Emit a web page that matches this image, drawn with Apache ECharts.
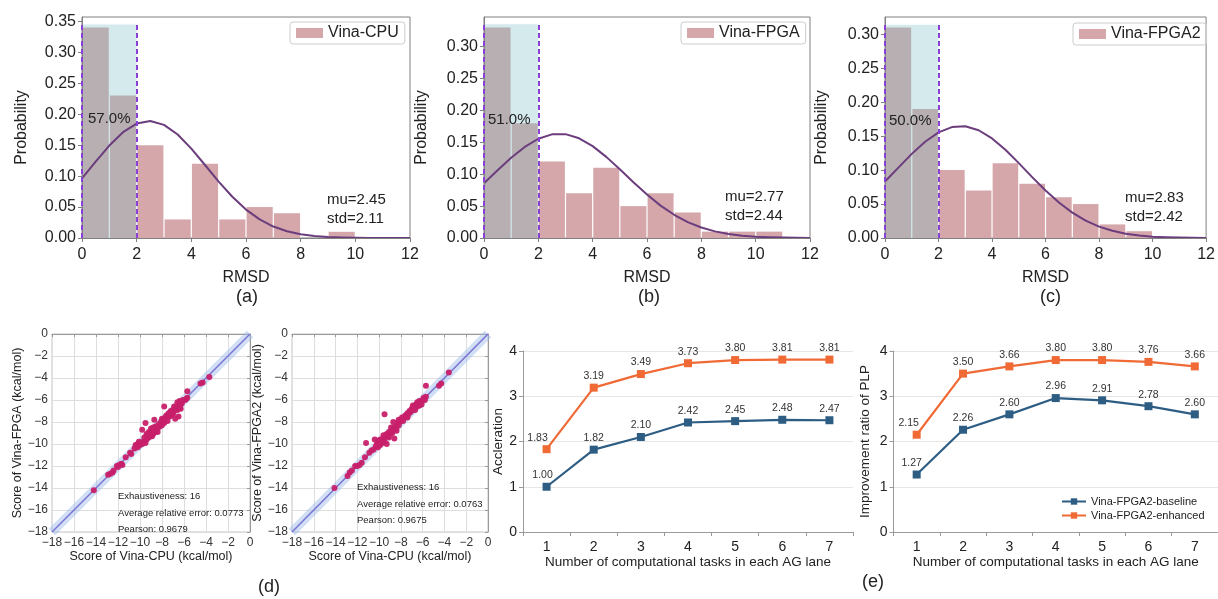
<!DOCTYPE html>
<html><head><meta charset="utf-8">
<script src="https://cdn.jsdelivr.net/npm/echarts@6/dist/echarts.min.js"></script>
<style>html,body{margin:0;padding:0;background:#fff}#c{width:1218px;height:599px}</style>
</head><body><div id="c"></div>
<script>
// ---------------- data ----------------
const binEdges = [0,1,2,3,4,5,6,7,8,9,10,11,12];
const probCPU   = [0.34,0.23,0.15,0.03,0.12,0.03,0.05,0.04,0.00,0.01,0.00,0.00];
const probFPGA  = [0.33,0.18,0.12,0.07,0.11,0.05,0.07,0.04,0.01,0.01,0.01,0.00];
const probFPGA2 = [0.31,0.19,0.10,0.07,0.11,0.08,0.06,0.05,0.02,0.01,0.00,0.00];
const curveX     = [0,0.5,1,1.5,2,2.5,3,3.5,4,4.5,5,5.5,6,6.5,7,7.5,8,8.5,9,9.5,10,10.5,11,11.5,12];
const curveCPU   = [0.0964,0.1234,0.1493,0.1709,0.1848,0.1890,0.1828,0.1671,0.1444,0.1179,0.0911,0.0666,0.0459,0.0300,0.0185,0.0108,0.0060,0.0031,0.0015,0.0007,0.0003,0.0001,0.0000,0.0000,0.0000];
const curveFPGA  = [0.0859,0.1061,0.1257,0.1428,0.1556,0.1625,0.1628,0.1563,0.1440,0.1272,0.1077,0.0874,0.0681,0.0508,0.0364,0.0250,0.0164,0.0104,0.0063,0.0036,0.0020,0.0011,0.0006,0.0003,0.0001];
const curveFPGA2 = [0.0832,0.1037,0.1239,0.1418,0.1555,0.1634,0.1645,0.1587,0.1467,0.1299,0.1103,0.0897,0.0699,0.0522,0.0374,0.0256,0.0168,0.0106,0.0064,0.0037,0.0020,0.0011,0.0006,0.0003,0.0001];
const shadeTop = [0.345,0.335,0.314];
const histNames = ['Vina-CPU','Vina-FPGA','Vina-FPGA2'];
const histPct = ['57.0%','51.0%','50.0%'];
const histMu = ['mu=2.45','mu=2.77','mu=2.83'];
const histStd = ['std=2.11','std=2.44','std=2.42'];
const histYMax = [0.357,0.3465,0.3255];
const histYTicksA = [0,0.05,0.10,0.15,0.20,0.25,0.30,0.35];
const histYTicksBC = [0,0.05,0.10,0.15,0.20,0.25,0.30];

const cpuScore1  = [-14.2,-12.9,-12.7,-12.5,-12.4,-12.1,-12.0,-11.9,-11.7,-11.6,-11.3,-10.9,-10.8,-10.5,-10.3,-10.2,-10.1,-10.0,-9.9,-9.8,-9.7,-9.6,-9.5,-9.4,-9.8,-9.5,-9.3,-9.2,-9.1,-9.0,-8.9,-8.8,-8.7,-8.6,-8.5,-8.7,-8.4,-8.3,-8.2,-8.1,-8.0,-7.9,-7.8,-7.8,-7.7,-7.5,-7.6,-7.4,-7.3,-7.2,-7.1,-7.0,-6.9,-6.8,-6.7,-6.6,-6.6,-6.5,-6.4,-6.3,-6.5,-6.8,-6.2,-6.1,-5.9,-5.8,-5.7,-5.7,-4.5,-4.3,-3.7,-9.2,-9.0,-8.9,-8.6,-8.4,-9.6,-10.4,-10.2,-7.2,-6.9,-6.4,-6.3,-7.0,-8.0,-8.8,-9.4];
const fpgaScore  = [-14.2,-12.8,-12.7,-12.6,-12.4,-12.0,-12.1,-11.9,-11.8,-11.9,-11.2,-10.8,-10.9,-10.4,-10.2,-10.0,-9.8,-10.1,-9.9,-10.0,-9.8,-9.7,-9.9,-9.6,-8.7,-8.1,-9.2,-9.4,-9.0,-9.2,-8.8,-9.1,-8.7,-8.9,-8.5,-7.8,-8.6,-8.2,-8.4,-8.0,-8.3,-7.8,-8.1,-6.6,-7.6,-7.9,-7.4,-7.2,-7.5,-7.0,-7.2,-6.9,-7.0,-6.8,-6.6,-6.9,-6.2,-6.5,-6.7,-6.4,-7.5,-7.7,-6.3,-6.0,-6.0,-5.9,-5.8,-5.2,-4.5,-4.4,-3.9,-8.9,-8.6,-9.3,-8.4,-8.9,-9.4,-10.1,-10.3,-7.4,-6.6,-6.1,-6.8,-7.3,-7.7,-8.5,-9.1];
const cpuScore2  = [-14.1,-12.9,-12.7,-12.5,-12.2,-12.0,-11.8,-11.6,-11.3,-11.2,-10.9,-10.7,-10.5,-10.3,-10.2,-10.1,-10.0,-9.9,-9.8,-9.7,-9.6,-9.5,-9.4,-10.4,-9.5,-9.3,-9.3,-9.2,-9.1,-9.0,-8.9,-8.8,-8.7,-8.6,-8.6,-8.5,-8.7,-8.4,-8.3,-8.2,-8.1,-8.0,-7.9,-7.8,-7.7,-7.6,-7.5,-7.4,-7.3,-7.2,-7.1,-7.0,-6.9,-6.8,-6.7,-6.6,-6.5,-6.4,-6.3,-6.2,-6.1,-6.0,-5.9,-5.8,-5.7,-5.7,-4.5,-4.3,-3.6,-9.9,-9.1,-8.9,-8.2,-7.4,-6.9,-6.5,-10.1,-9.6,-8.4,-6.7,-6.3];
const fpga2Score = [-14.0,-12.9,-12.6,-12.4,-12.0,-12.0,-11.9,-11.7,-11.2,-9.9,-10.8,-10.6,-10.5,-10.2,-10.0,-10.3,-9.9,-10.1,-9.7,-9.9,-9.5,-9.8,-9.3,-9.6,-7.3,-10.0,-9.1,-9.3,-8.9,-9.1,-8.8,-9.0,-8.6,-9.5,-8.7,-8.4,-8.0,-8.5,-8.1,-8.3,-8.0,-7.8,-7.6,-7.9,-7.6,-7.4,-7.5,-7.2,-7.3,-7.0,-7.1,-6.8,-6.9,-6.6,-6.7,-6.4,-6.6,-6.3,-6.5,-6.2,-6.4,-6.0,-5.8,-6.0,-5.7,-4.7,-4.7,-4.5,-3.5,-9.6,-9.4,-8.5,-7.8,-7.6,-6.5,-6.2,-9.7,-9.2,-8.8,-6.9,-6.1];
const diagLine = [[-18,-18],[0,0]];

const tasks = ['1','2','3','4','5','6','7'];
const accelBaseline = [1.00,1.82,2.10,2.42,2.45,2.48,2.47];
const accelEnhanced = [1.83,3.19,3.49,3.73,3.80,3.81,3.81];
const plpBaseline = [1.27,2.26,2.60,2.96,2.91,2.78,2.60];
const plpEnhanced = [2.15,3.50,3.66,3.80,3.80,3.76,3.66];

// ---------------- styles ----------------
const FONT = "'Liberation Sans', Arial, sans-serif";
const PINK = '#d5a7ab', GRAY = '#b7afb1', CYAN = '#d5eaed', CURVE = '#6b3d7d', DASH = '#8a3fd6';
const BLUE = '#2e5d84', ORANGE = '#f06a35', DOT = '#c8206a';

const chart = echarts.init(document.getElementById('c'), null, {renderer:'canvas'});

const grids = [
  {left:82, top:17, width:328, height:221},
  {left:484, top:17, width:326, height:221},
  {left:885, top:17, width:325, height:221},
  {left:52, top:334, width:198, height:198},
  {left:292, top:334, width:196, height:198},
  {left:523, top:351, width:330, height:181},
  {left:893.5, top:351, width:326, height:181}
];
grids.forEach((g,i)=>{ if(i<3){g.show=true;g.borderColor='#808080';g.borderWidth=1;} else if(i<5){g.show=true;g.borderColor='#c4c4c4';g.borderWidth=1;} });

const xAxes=[], yAxes=[], series=[], legends=[], graphics=[];
const histProbs=[probCPU,probFPGA,probFPGA2];
const histCurves=[curveCPU,curveFPGA,curveFPGA2];
const nameGapsY=[52,54,55];
const pctPos=[[88,120],[488,121],[889,122]];
const muPos=[[327,199],[725,196],[1125,197]];
const legPos=[[290,22],[681,22],[1073,23]];
const lblPos=[[248,299],[650,299],[1052,299]];

for(let i=0;i<3;i++){
  xAxes.push({gridIndex:i,type:'value',min:0,max:12,interval:2,z:5,
    name:'RMSD',nameLocation:'middle',nameGap:32,nameTextStyle:{fontSize:16,color:'#222',fontFamily:FONT},
    axisLine:{show:true,lineStyle:{color:'#808080'}},axisTick:{show:true,length:4,lineStyle:{color:'#808080'}},
    axisLabel:{fontSize:16,color:'#222',fontFamily:FONT,margin:9},splitLine:{show:false}});
  const ticks = i===0?histYTicksA:histYTicksBC;
  yAxes.push({gridIndex:i,type:'value',min:0,max:histYMax[i],z:5,
    name:'Probability',nameLocation:'middle',nameGap:nameGapsY[i],nameTextStyle:{fontSize:16,color:'#222',fontFamily:FONT},
    axisLine:{show:true,lineStyle:{color:'#808080'}},
    axisTick:{show:true,length:4,lineStyle:{color:'#808080'},customValues:ticks},
    axisLabel:{fontSize:16,color:'#222',fontFamily:FONT,margin:6,customValues:ticks,formatter:v=>v.toFixed(2)},
    splitLine:{show:false}});
  // shade
  series.push({type:'custom',xAxisIndex:i,yAxisIndex:i,z:1,silent:true,
    data:[[binEdges[0],binEdges[2],shadeTop[i]]],
    renderItem:function(params,api){const p0=api.coord([api.value(0),0]),p1=api.coord([api.value(1),api.value(2)]);
      return {type:'rect',shape:{x:p0[0],y:p1[1],width:p1[0]-p0[0],height:p0[1]-p1[1]},style:{fill:CYAN}};},
    markLine:{silent:true,z:12,symbol:'none',label:{show:false},lineStyle:{color:DASH,type:[5,3],width:2},
      data:[[{coord:[binEdges[0],0]},{coord:[binEdges[0],shadeTop[i]]}],[{coord:[binEdges[2],0]},{coord:[binEdges[2],shadeTop[i]]}]]}});
  // bars
  const bars = histProbs[i].map((h,k)=>[binEdges[k],binEdges[k+1],h]);
  series.push({type:'custom',name:histNames[i],xAxisIndex:i,yAxisIndex:i,z:2,silent:true,itemStyle:{color:PINK},
    data:bars,encode:{x:[0,1],y:2},
    renderItem:function(params,api){const h=api.value(2); if(!(h>0)) return null;
      const p0=api.coord([api.value(0),0]),p1=api.coord([api.value(1),h]);
      return {type:'rect',shape:{x:p0[0]+0.6,y:p1[1],width:p1[0]-p0[0]-1.2,height:p0[1]-p1[1]},
        style:{fill:params.dataIndex<2?GRAY:PINK}};}});
  // curve
  series.push({type:'line',xAxisIndex:i,yAxisIndex:i,z:4,silent:true,smooth:false,symbol:'none',
    lineStyle:{color:CURVE,width:2,join:'round'},data:curveX.map((x,k)=>[x,histCurves[i][k]])});
  legends.push({left:legPos[i][0],top:legPos[i][1],data:[histNames[i]],icon:'rect',itemWidth:27,itemHeight:10,itemGap:0,
    padding:[3,6,3,6],borderColor:'#cccccc',borderWidth:1,borderRadius:3,selectedMode:false,
    textStyle:{fontSize:16,color:'#222',fontFamily:FONT}});
  graphics.push({type:'text',z:100,left:pctPos[i][0],top:pctPos[i][1]-9,style:{text:histPct[i],fontSize:15,fill:'#222',fontFamily:FONT}});
  graphics.push({type:'text',z:100,left:muPos[i][0],top:muPos[i][1]-9,style:{text:histMu[i]+'\n'+histStd[i],fontSize:15,lineHeight:19,fill:'#222',fontFamily:FONT}});
  graphics.push({type:'text',z:100,left:lblPos[i][0]-12,top:lblPos[i][1]-11,style:{text:['(a)','(b)','(c)'][i],fontSize:18,fill:'#222',fontFamily:FONT}});
}

// scatter panels
const minusFmt = v => String(v).replace('-','\u2212');
const scatterY=['Score of Vina-FPGA (kcal/mol)','Score of Vina-FPGA2 (kcal/mol)'];
const scatterYs=[[cpuScore1,fpgaScore],[cpuScore2,fpga2Score]];
const scatterTxt=[['Exhaustiveness: 16','Average relative error: 0.0773','Pearson: 0.9679'],['Exhaustiveness: 16','Average relative error: 0.0763','Pearson: 0.9675']];
const scatterTxtPos=[[118,488],[357,479]];
for(let j=0;j<2;j++){
  const gi=3+j;
  xAxes.push({gridIndex:gi,type:'value',min:-18,max:0,interval:2,
    name:'Score of Vina-CPU (kcal/mol)',nameLocation:'middle',nameGap:17,nameTextStyle:{fontSize:12.5,color:'#222',fontFamily:FONT},
    axisLine:{show:true,lineStyle:{color:'#999'}},axisTick:{show:true,length:3,lineStyle:{color:'#999'}},
    axisLabel:{fontSize:12,color:'#333',fontFamily:FONT,margin:5,formatter:minusFmt},
    splitLine:{show:true,lineStyle:{color:'#dedede'}}});
  yAxes.push({gridIndex:gi,type:'value',min:-18,max:0,interval:2,
    name:scatterY[j],nameLocation:'middle',nameGap:j===0?27:28,nameTextStyle:{fontSize:12.5,color:'#222',fontFamily:FONT},
    axisLine:{show:true,lineStyle:{color:'#999'}},axisTick:{show:true,length:3,lineStyle:{color:'#999'}},
    axisLabel:{fontSize:12,color:'#333',fontFamily:FONT,margin:4,formatter:minusFmt},
    splitLine:{show:true,lineStyle:{color:'#dedede'}}});
  series.push({type:'line',xAxisIndex:gi,yAxisIndex:gi,symbol:'none',silent:true,z:1,
    lineStyle:{color:'rgba(150,185,235,0.45)',width:9},data:diagLine});
  series.push({type:'line',xAxisIndex:gi,yAxisIndex:gi,symbol:'none',silent:true,z:2,
    lineStyle:{color:'#7a72d0',width:1.5},data:diagLine});
  const xs=scatterYs[j][0], ys=scatterYs[j][1];
  series.push({type:'scatter',xAxisIndex:gi,yAxisIndex:gi,symbolSize:6,z:3,silent:true,
    itemStyle:{color:DOT,opacity:0.95},data:xs.map((x,k)=>[x,ys[k]])});
  graphics.push({type:'text',z:100,left:scatterTxtPos[j][0],top:scatterTxtPos[j][1],
    style:{text:scatterTxt[j].join('\n'),fontSize:9.5,lineHeight:16.7,fill:'#222',fontFamily:FONT}});
}
graphics.push({type:'text',z:100,left:258,top:578,style:{text:'(d)',fontSize:18,fill:'#222',fontFamily:FONT}});
graphics.push({type:'text',z:100,left:862,top:573,style:{text:'(e)',fontSize:18,fill:'#222',fontFamily:FONT}});

// line panels
const lineY=['Accleration','Improvement ratio of PLP'];
const lineData=[[accelBaseline,accelEnhanced],[plpBaseline,plpEnhanced]];
const nameGapL=[17,21];
const firstLabelShift=[[-4,-9],[-5,-8]];
for(let j=0;j<2;j++){
  const gi=5+j;
  xAxes.push({gridIndex:gi,type:'category',data:tasks,boundaryGap:true,
    name:'Number of computational tasks in each AG lane',nameLocation:'middle',nameGap:21,
    nameTextStyle:{fontSize:13.5,color:'#222',fontFamily:FONT},
    axisLine:{show:true,lineStyle:{color:'#9a9a9a'}},axisTick:{show:true,length:4,lineStyle:{color:'#9a9a9a'}},
    axisLabel:{fontSize:14,color:'#222',fontFamily:FONT,margin:8}});
  yAxes.push({gridIndex:gi,type:'value',min:0,max:4,interval:1,
    name:lineY[j],nameLocation:'middle',nameGap:nameGapL[j],nameTextStyle:{fontSize:13.5,color:'#222',fontFamily:FONT},
    axisLine:{show:true,lineStyle:{color:'#9a9a9a'}},axisTick:{show:true,length:4,lineStyle:{color:'#9a9a9a'}},
    axisLabel:{fontSize:14,color:'#222',fontFamily:FONT,margin:6},
    splitLine:{show:true,lineStyle:{color:'#e6e6e6'}}});
  const names=['Vina-FPGA2-baseline','Vina-FPGA2-enhanced'];
  [BLUE,ORANGE].forEach((col,k)=>{
    const shift=firstLabelShift[j][k];
    series.push({type:'line',name:names[k],xAxisIndex:gi,yAxisIndex:gi,data:lineData[j][k],
      symbol:'rect',symbolSize:8,silent:true,lineStyle:{color:col,width:2.2},itemStyle:{color:col},
      labelLayout:function(p){return p.dataIndex===0?{dx:shift}:{};},
      label:{show:true,position:'top',distance:2,fontSize:10.5,color:'#333',fontFamily:FONT,formatter:p=>p.value.toFixed(2)}});
  });
}
legends.push({left:1056,top:491,orient:'vertical',data:['Vina-FPGA2-baseline','Vina-FPGA2-enhanced'],
  itemWidth:24,itemHeight:8,itemGap:3,selectedMode:false,textStyle:{fontSize:11,color:'#222',fontFamily:FONT}});

chart.setOption({
  animation:false,
  textStyle:{fontFamily:FONT},
  grid:grids, xAxis:xAxes, yAxis:yAxes, series:series, legend:legends, graphic:graphics
});
</script></body></html>
